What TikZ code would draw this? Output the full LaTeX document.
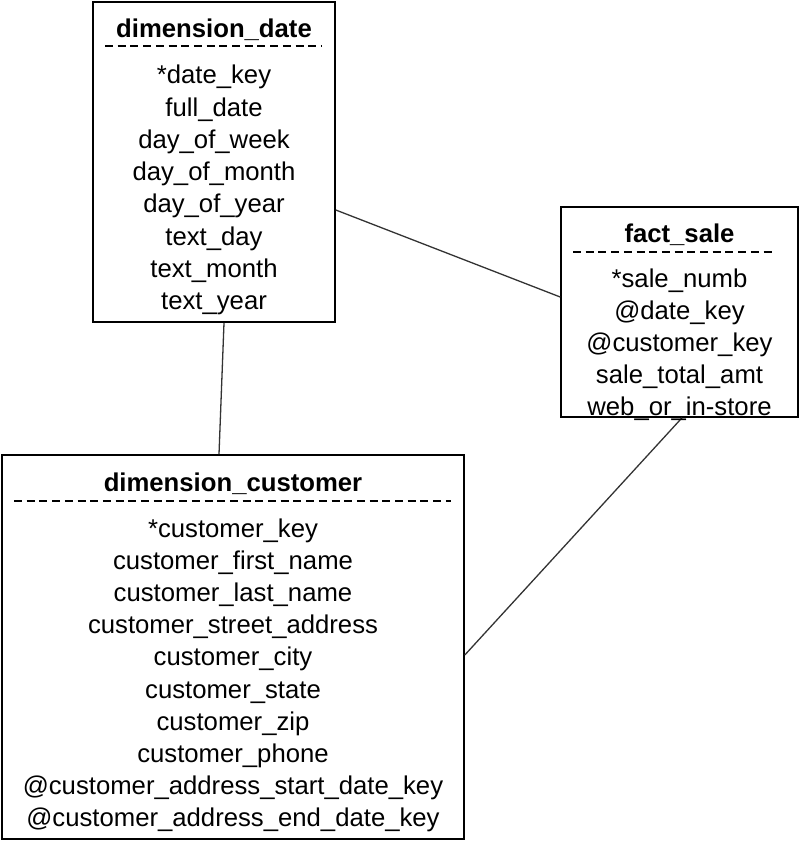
\documentclass[tikz,border=0pt]{standalone}
\usepackage{fontspec}
\setmainfont{Liberation Sans}
\newcommand\fieldfnt{\fontsize{25.7}{30}\selectfont}
\tikzset{
  tbl/.style={draw=black, line width=1.6pt, fill=white, inner sep=0pt},
  field/.style={anchor=base, inner sep=0pt, font=\fieldfnt},
  ttl/.style={anchor=base, inner sep=0pt, font=\fieldfnt\bfseries},
  sep/.style={draw=black, line width=1.5pt, dash pattern=on 8pt off 4.7pt},
  link/.style={draw=black!80, line width=1.3pt}
}
\begin{document}
\begin{tikzpicture}[x=1pt,y=-1pt]
\useasboundingbox (0,0) rectangle (800,842);
% boxes
\node[tbl, minimum width=242pt, minimum height=320pt] (date) at (214,162) {};
\node[tbl, minimum width=237pt, minimum height=210pt] (fact) at (679.5,312) {};
\node[tbl, minimum width=462pt, minimum height=384pt] (cust) at (233,647) {};
% connectors
\draw[link] ([yshift=-48pt]date.east) -- ([yshift=15pt]fact.west);
\draw[link] ([xshift=10pt]date.south) -- ([xshift=-14pt]cust.north);
\draw[link] ([xshift=2.5pt]fact.south) -- ([yshift=-8pt]cust.east);
% dimension_date
\node[ttl] (datet) at (214,38) {dimension\_date};
\draw[sep] (105,46) -- (321,46);
\foreach \t [count=\i] in {*date\_key,full\_date,day\_of\_week,day\_of\_month,day\_of\_year,text\_day,text\_month,text\_year}
  \node[field] (d\i) at (214,{84+32.2*(\i-1)}) {\t};
% fact_sale
\node[ttl] (factt) at (679.5,242) {fact\_sale};
\draw[sep] (573,252) -- (776,252);
\foreach \t [count=\i] in {*sale\_numb,@date\_key,@customer\_key,sale\_total\_amt,web\_or\_in-store}
  \node[field] (f\i) at (679.5,{287.5+32*(\i-1)}) {\t};
% dimension_customer
\node[ttl] (custt) at (233,491) {dimension\_customer};
\draw[sep] (14,501) -- (451,501);
\foreach \t [count=\i] in {*customer\_key,customer\_first\_name,customer\_last\_name,customer\_street\_address,customer\_city,customer\_state,customer\_zip,customer\_phone,@customer\_address\_start\_date\_key,@customer\_address\_end\_date\_key}
  \node[field] (c\i) at (233,{537+32.2*(\i-1)}) {\t};
\end{tikzpicture}
\end{document}
